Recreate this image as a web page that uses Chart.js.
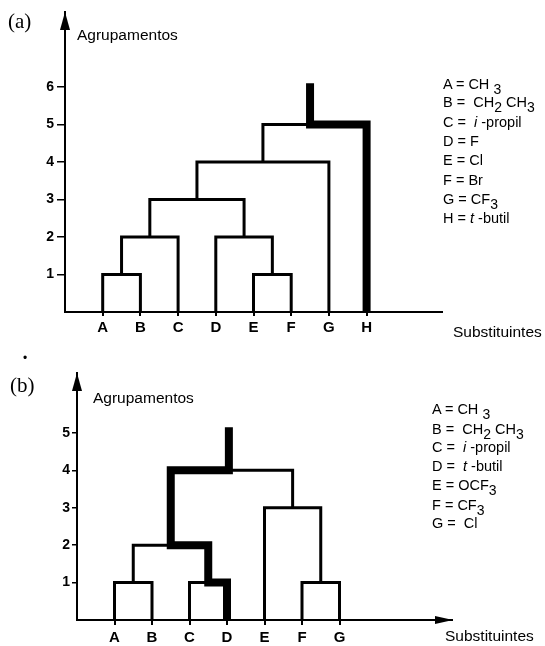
<!DOCTYPE html>
<html>
<head>
<title>Agrupamentos</title>
<script src="https://cdn.jsdelivr.net/npm/chart.js"></script>
<style>
  body { margin: 0; background: #fff; }
  #wrap { position: relative; width: 545px; height: 646px; font-family: "Liberation Sans", Arial, sans-serif; color: #000; }
  canvas { position: absolute; left: 0; }
  .t { position: absolute; font-size: 15.5px; line-height: 15px; white-space: nowrap; }
  .leg { position: absolute; font-size: 14.5px; line-height: 14px; white-space: nowrap; }
  .leg sub { font-size: 14px; vertical-align: -5px; line-height: 0; }
  .pl { position: absolute; font-family: "Liberation Serif", serif; font-size: 21px; line-height: 21px; }
</style>
</head>
<body>
<div id="wrap">
  <canvas id="chartA" width="545" height="340" style="top:0"></canvas>
  <canvas id="chartB" width="545" height="306" style="top:340px"></canvas>
  <div class="pl" style="left:8px;top:11px">(a)</div>
  <div class="t" style="left:77px;top:27px">Agrupamentos</div>
  <div class="t" style="left:453px;top:324px">Substituintes</div>
  <div class="t" style="left:23px;top:351px;font-size:12px">&bull;</div>
  <div class="pl" style="left:10px;top:375px">(b)</div>
  <div class="t" style="left:93px;top:390px">Agrupamentos</div>
  <div class="t" style="left:445px;top:628px">Substituintes</div>
  <div id="legA"></div>
  <div id="legB"></div>
</div>

<script>
  // (a) dendrograma
  const leavesA = ['A', 'B', 'C', 'D', 'E', 'F', 'G', 'H'];
  const yTicksA = [1, 2, 3, 4, 5, 6];
  // [x esquerdo, base esquerda, x direito, base direita, altura]
  const bracketsA = [
    [1, 0, 2, 0, 1],
    [1.5, 1, 3, 0, 2],
    [5, 0, 6, 0, 1],
    [4, 0, 5.5, 1, 2],
    [2.25, 2, 4.75, 2, 3],
    [3.5, 3, 7, 0, 4],
    [5.25, 4, 8, 0, 5]
  ];
  const boldXA = [8, 8, 6.5, 6.5];
  const boldYA = [0, 5, 5, 6.1];
  const legendA = ['A = CH <sub>3</sub>', 'B =&nbsp; CH<sub>2</sub> CH<sub>3</sub>', 'C =&nbsp; <i>i</i> -propil',
    'D = F', 'E = Cl', 'F = Br', 'G = CF<sub>3</sub>', 'H = <i>t</i> -butil'];
  const legendYA = [84, 102, 122, 141, 160, 180, 199, 218];

  // (b) dendrograma
  const leavesB = ['A', 'B', 'C', 'D', 'E', 'F', 'G'];
  const yTicksB = [1, 2, 3, 4, 5];
  const bracketsB = [
    [1, 0, 2, 0, 1],
    [3, 0, 4, 0, 1],
    [1.5, 1, 3.5, 1, 2],
    [6, 0, 7, 0, 1],
    [5, 0, 6.5, 1, 3],
    [2.5, 2, 5.75, 3, 4]
  ];
  const boldXB = [4, 4, 3.5, 3.5, 2.5, 2.5, 4.05, 4.05];
  const boldYB = [0, 1, 1, 2, 2, 4, 4, 5.15];
  const legendB = ['A = CH <sub>3</sub>', 'B =&nbsp; CH<sub>2</sub> CH<sub>3</sub>', 'C =&nbsp; <i>i</i> -propil',
    'D =&nbsp; <i>t</i> -butil', 'E = OCF<sub>3</sub>', 'F = CF<sub>3</sub>', 'G =&nbsp; Cl'];
  const legendYB = [409, 429, 447, 466, 485, 505, 523];

  function writeLegend(id, items, ys, left) {
    const box = document.getElementById(id);
    items.forEach((txt, i) => {
      const d = document.createElement('div');
      d.className = 'leg';
      d.style.left = left + 'px';
      d.style.top = (ys[i] - 7) + 'px';
      d.innerHTML = txt;
      box.appendChild(d);
    });
  }
  writeLegend('legA', legendA, legendYA, 443);
  writeLegend('legB', legendB, legendYB, 432);

  const arrows = {
    id: 'arrows',
    afterDraw(chart, args, opts) {
      const { ctx, chartArea: a } = chart;
      ctx.save();
      ctx.fillStyle = '#000';
      ctx.beginPath();
      ctx.moveTo(a.left, a.top);
      ctx.lineTo(a.left - 5, a.top + 18);
      ctx.lineTo(a.left + 5, a.top + 18);
      ctx.closePath();
      ctx.fill();
      if (opts.xArrow) {
        ctx.beginPath();
        ctx.moveTo(a.right + 1, a.bottom);
        ctx.lineTo(a.right - 17, a.bottom - 4);
        ctx.lineTo(a.right - 17, a.bottom + 4);
        ctx.closePath();
        ctx.fill();
      }
      ctx.restore();
    }
  };

  function bracketSets(brackets) {
    return brackets.map(b => ({
      data: [{ x: b[0], y: b[1] }, { x: b[0], y: b[4] }, { x: b[2], y: b[4] }, { x: b[2], y: b[3] }],
      borderColor: '#000',
      borderWidth: 3,
      borderJoinStyle: 'miter',
      pointRadius: 0,
      tension: 0,
      clip: false
    }));
  }

  function boldSet(xs, ys) {
    return {
      data: xs.map((x, i) => ({ x: x, y: ys[i] })),
      borderColor: '#000',
      borderWidth: 8,
      borderJoinStyle: 'miter',
      pointRadius: 0,
      tension: 0,
      clip: false
    };
  }

  function makeChart(id, o) {
    return new Chart(document.getElementById(id), {
      type: 'line',
      data: { datasets: bracketSets(o.brackets).concat([boldSet(o.boldX, o.boldY)]) },
      plugins: [arrows],
      options: {
        responsive: false,
        animation: false,
        devicePixelRatio: 1,
        layout: { padding: o.padding },
        plugins: { legend: { display: false }, tooltip: { enabled: false }, arrows: { xArrow: o.xArrow } },
        scales: {
          x: {
            type: 'linear',
            min: 0,
            max: 10,
            afterFit: s => { s.height = o.xHeight; },
            afterBuildTicks: s => { s.ticks = o.leaves.map((l, i) => ({ value: i + 1 })); },
            border: { display: true, color: '#000', width: 2 },
            grid: { drawOnChartArea: false, drawTicks: true, tickLength: o.xTick, color: '#000', lineWidth: 2 },
            ticks: {
              color: '#000',
              padding: o.xPad,
              maxRotation: 0,
              font: { family: 'Liberation Sans', size: 15, weight: 'bold' },
              callback: v => o.leaves[v - 1]
            }
          },
          y: {
            min: 0,
            max: o.yMax,
            afterFit: s => { s.width = 30; },
            afterBuildTicks: s => { s.ticks = o.yTicks.map(v => ({ value: v })); },
            border: { display: true, color: '#000', width: 2 },
            grid: { drawOnChartArea: false, drawTicks: true, tickLength: o.yTick, color: '#000', lineWidth: 1.5 },
            ticks: {
              color: '#000',
              padding: o.yPad,
              font: { family: 'Liberation Sans', size: 14, weight: 'bold' }
            }
          }
        }
      }
    });
  }

  makeChart('chartA', {
    leaves: leavesA, yTicks: yTicksA, brackets: bracketsA, boldX: boldXA, boldY: boldYA,
    padding: { left: 35, right: 103, top: 12, bottom: 0 },
    yMax: 8, xHeight: 28, xTick: 4, xPad: 3, yTick: 8, yPad: 3, xArrow: false
  });

  makeChart('chartB', {
    leaves: leavesB, yTicks: yTicksB, brackets: bracketsB, boldX: boldXB, boldY: boldYB,
    padding: { left: 47, right: 93, top: 33, bottom: 0 },
    yMax: 6.6, xHeight: 26, xTick: 5, xPad: 4, yTick: 5, yPad: 2, xArrow: true
  });
</script>
</body>
</html>
